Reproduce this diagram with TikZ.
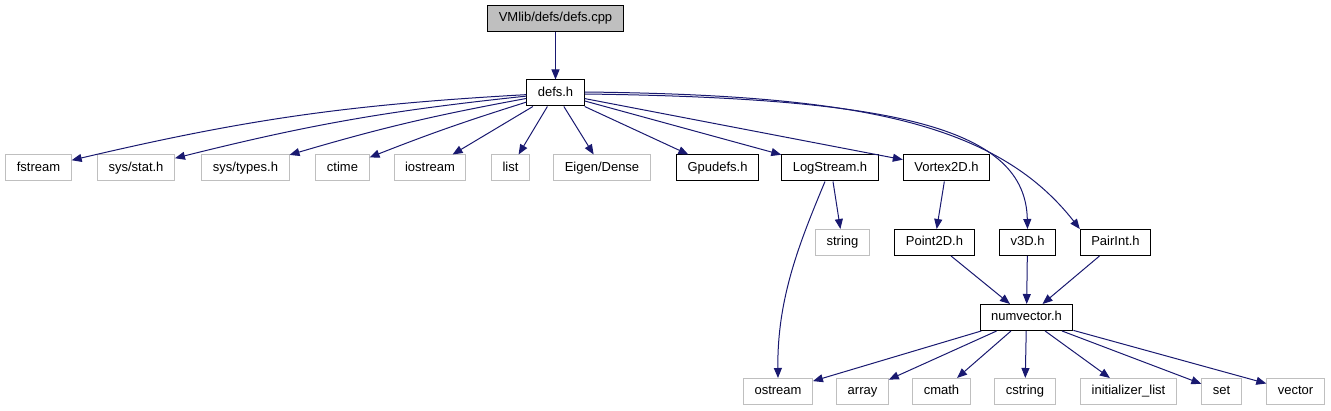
\documentclass[tikz,border=0pt]{standalone}
\usepackage{fontspec}
\setmainfont{Liberation Sans}
\usetikzlibrary{arrows.meta}
\definecolor{EdgeBlue}{HTML}{191970}
\definecolor{LightGrey}{HTML}{BFBFBF}

\begin{document}
\begin{tikzpicture}[x=1pt,y=-1pt,
  fbox/.style={draw=black,line width=1pt,fill=white,font=\fontsize{13}{15}\selectfont,
    minimum height=26pt,inner xsep=11pt,inner ysep=0pt,text height=9.5pt,text depth=2.5pt},
  xbox/.style={fbox,draw=LightGrey},
  rbox/.style={fbox,fill=LightGrey},
  arr/.style={-{Triangle[length=10pt,width=8pt]},line width=1pt,draw=EdgeBlue}
]
  \useasboundingbox (0,0) rectangle (1331,411);

  % source file and its header
  \node[rbox] (root) at (555.5,18.5) {VMlib/defs/defs.cpp};
  \node[fbox] (defs) at (555.5,93)   {defs.h};
  \draw[arr] (root)--(defs);

  % headers included by defs.h
  \node[xbox] (fstream)   at (38.5,168)  {fstream};
  \node[xbox] (sysstat)   at (136,168)   {sys/stat.h};
  \node[xbox] (systypes)  at (245.5,168) {sys/types.h};
  \node[xbox] (ctime)     at (342.5,168) {ctime};
  \node[xbox] (iostream)  at (430,168)   {iostream};
  \node[xbox] (list)      at (510.5,168) {list};
  \node[xbox] (eigen)     at (602,168)   {Eigen/Dense};
  \node[fbox] (gpudefs)   at (717.5,168) {Gpudefs.h};
  \node[fbox] (logstream) at (830,168)   {LogStream.h};
  \node[fbox] (vortex)    at (946.5,168) {Vortex2D.h};
  \draw[arr] (defs) to[bend right=5] (fstream);
  \draw[arr] (defs) to[bend right=4] (sysstat);
  \draw[arr] (defs) to[bend right=3] (systypes);
  \draw[arr] (defs) to[bend right=2] (ctime);
  \draw[arr] (defs)--(iostream);
  \draw[arr] (defs)--(list);
  \draw[arr] (defs)--(eigen);
  \draw[arr] (defs)--(gpudefs);
  \draw[arr] (defs)--(logstream);
  \draw[arr] (defs)--(vortex);

  % second level
  \node[xbox] (string)  at (842.5,242.5)  {string};
  \node[fbox] (point2d) at (934.5,242.5)  {Point2D.h};
  \node[fbox] (v3d)     at (1027.5,242.5) {v3D.h};
  \node[fbox] (pairint) at (1115.5,242.5) {PairInt.h};
  \draw[arr] ([xshift=3pt]logstream.south)--(string);
  \draw[arr] (vortex)--(point2d);
  \draw[arr] ([yshift=-1pt]defs.east) .. controls +(315,4) and +(-2,-100) .. (v3d.north);
  \draw[arr] ([yshift=1pt]defs.east) .. controls +(265,3) and +(-85,-109) .. (pairint.north west);

  % numvector.h
  \node[fbox] (numvec) at (1026.5,317.5) {numvector.h};
  \draw[arr] (point2d)--(numvec);
  \draw[arr] (v3d)--(numvec);
  \draw[arr] (pairint)--(numvec);

  % standard headers at the bottom
  \node[xbox] (ostream)  at (778,391.5)    {ostream};
  \node[xbox] (array)    at (862.5,391.5)  {array};
  \node[xbox] (cmath)    at (941.5,391.5)  {cmath};
  \node[xbox] (cstring)  at (1025,391.5)   {cstring};
  \node[xbox] (initlist) at (1128.5,391.5) {initializer\_list};
  \node[xbox] (set)      at (1221.5,391.5) {set};
  \node[xbox] (vector)   at (1295.5,391.5) {vector};
  \draw[arr] ([xshift=-5pt]logstream.south) .. controls +(-25,60) and +(-1,-80) .. (ostream.north);
  \draw[arr] (numvec)--(ostream);
  \draw[arr] (numvec)--(array);
  \draw[arr] (numvec)--(cmath);
  \draw[arr] (numvec)--(cstring);
  \draw[arr] (numvec)--(initlist);
  \draw[arr] (numvec)--(set);
  \draw[arr] (numvec)--(vector);
\end{tikzpicture}
\end{document}
